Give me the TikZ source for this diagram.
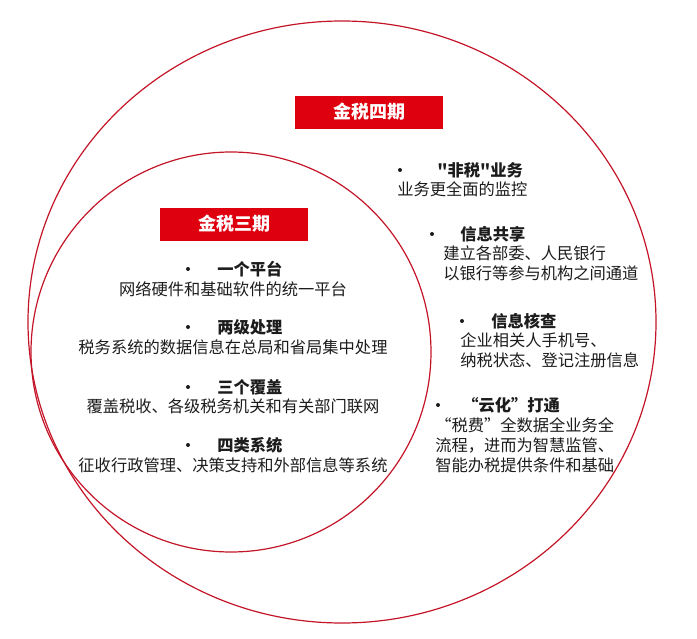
\documentclass[tikz,border=0pt]{standalone}
\usepackage{fontspec}
\usepackage{tikz}
\usetikzlibrary{positioning}
\newfontfamily\cjk{Noto Sans CJK SC}
\definecolor{boxred}{RGB}{222,0,14}
\definecolor{ringred}{RGB}{196,20,40}
\definecolor{ink}{RGB}{28,28,28}
\tikzset{
  ring/.style={draw=ringred, line width=0.9pt},
  titlebox/.style={fill=boxred, text=white, inner sep=0pt, minimum width=111pt, minimum height=24.75pt, font=\cjk\bfseries\fontsize{13.5}{16}\selectfont},
  dot/.style={fill=ink, circle, inner sep=0pt, minimum size=3pt},
  head/.style={text=ink, inner sep=0pt, anchor=west, font=\cjk\bfseries\fontsize{12.2}{15}\selectfont},
  desc/.style={text=ink, inner sep=0pt, font=\cjk\fontsize{12.2}{15}\selectfont},
  descl/.style={desc, anchor=west, align=left}
}
\begin{document}
\begin{tikzpicture}[x=0.75pt,y=-0.75pt]
  \useasboundingbox (0,0) rectangle (697,639);

  % 两个圆
  \draw[ring] (342,322) ellipse [x radius=235.5pt, y radius=225.75pt];
  \draw[ring] (231,352) circle [radius=150pt];

  % 标题
  \node[titlebox] (si) at (369,112) {金税四期};
  \node[titlebox] (san) at (234,224) {金税三期};

  % 金税三期
  \node[dot] (d1) at (188,269) {};
  \node[head] (h1) at (217,269) {一个平台};
  \node[desc] (t1) at (233,289) {网络硬件和基础软件的统一平台};
  \node[dot] (d2) at (188,327) {};
  \node[head] (h2) at (217,327) {两级处理};
  \node[desc] (t2) at (233,347) {税务系统的数据信息在总局和省局集中处理};
  \node[dot] (d3) at (188,387) {};
  \node[head] (h3) at (217,387) {三个覆盖};
  \node[desc] (t3) at (233,406) {覆盖税收、各级税务机关和有关部门联网};
  \node[dot] (d4) at (188,445) {};
  \node[head] (h4) at (217,445) {四类系统};
  \node[desc] (t4) at (233,465) {征收行政管理、决策支持和外部信息等系统};

  % 金税四期
  \node[dot] (e1) at (400,170) {};
  \node[head] (k1) at (437,170) {"非税"业务};
  \node[descl] (s1) at (397,189) {业务更全面的监控};
  \node[dot] (e2) at (432,234) {};
  \node[head] (k2) at (460,234) {信息共享};
  \node[descl] (s2) at (443,263) {建立各部委、人民银行\\以银行等参与机构之间通道};
  \node[dot] (e3) at (462,321) {};
  \node[head] (k3) at (491,321) {信息核查};
  \node[descl] (s3) at (460,350) {企业相关人手机号、\\纳税状态、登记注册信息};
  \node[dot] (e4) at (438,405) {};
  \node[head] (k4) at (462,405) {“云化”打通};
  \node[descl] (s4) at (435,445) {“税费”全数据全业务全\\流程，进而为智慧监管、\\智能办税提供条件和基础};

\end{tikzpicture}
\end{document}
